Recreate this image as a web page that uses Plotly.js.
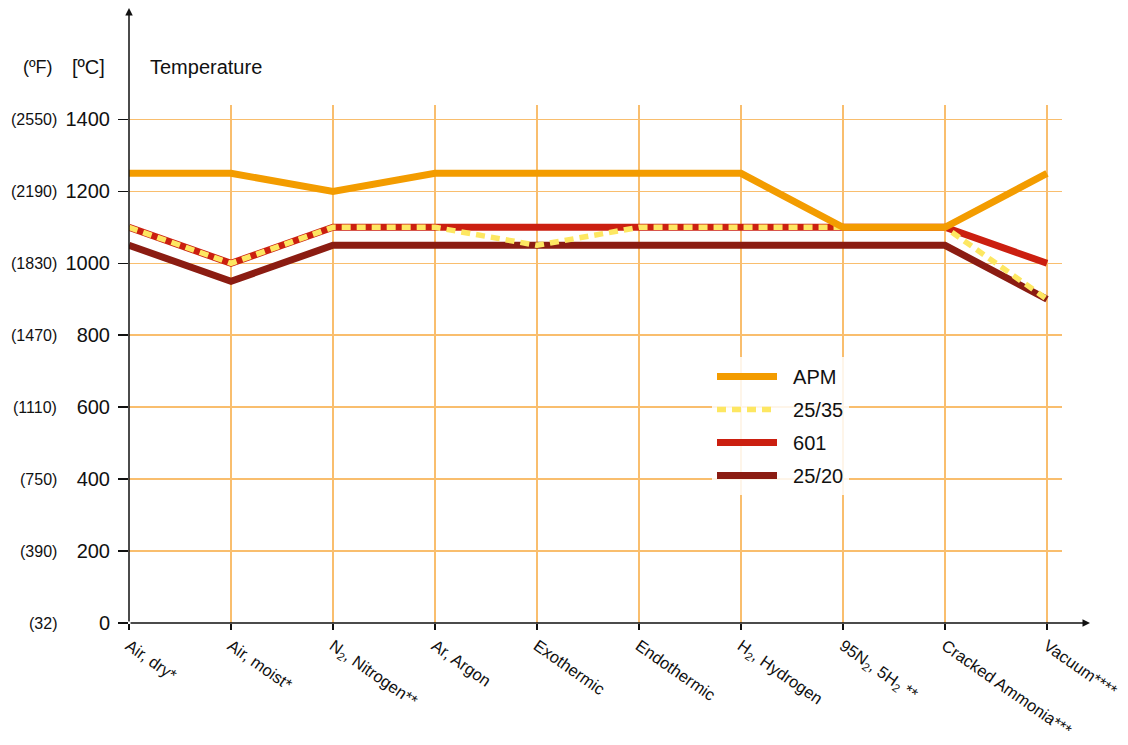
<!DOCTYPE html>
<html><head><meta charset="utf-8">
<script src="https://cdn.plot.ly/plotly-3.0.1.min.js"></script>
<style>html,body{margin:0;padding:0;background:#fff}#chart{width:1128px;height:745px}</style>
</head><body><div id="chart"></div>
<script>
const categories = ["Air, dry*", "Air, moist*", "N<sub>2</sub>, Nitrogen**", "Ar, Argon", "Exothermic", "Endothermic", "H<sub>2</sub>, Hydrogen", "95N<sub>2</sub>, 5H<sub>2</sub> **", "Cracked Ammonia***", "Vacuum****"];
const apm   = [1250, 1250, 1200, 1250, 1250, 1250, 1250, 1100, 1100, 1250];
const s2535 = [1100, 1000, 1100, 1100, 1050, 1100, 1100, 1100, 1100, 900];
const s601  = [1100, 1000, 1100, 1100, 1100, 1100, 1100, 1100, 1100, 1000];
const s2520 = [1050, 950, 1050, 1050, 1050, 1050, 1050, 1050, 1050, 900];
const yTicksC = [0, 200, 400, 600, 800, 1000, 1200, 1400];
const yTicksF = ["(32)", "(390)", "(750)", "(1110)", "(1470)", "(1830)", "(2190)", "(2550)"];

const xIdx = categories.map((_, i) => i);
const font = "Liberation Sans, Arial, Helvetica, sans-serif";
const nb = "\u00a0\u00a0";

const traces = [
  {name: "25/20", y: s2520, color: "#8B1C12", width: 7, dash: "solid", rank: 4},
  {name: "601",   y: s601,  color: "#CB1F10", width: 7, dash: "solid", rank: 3},
  {name: "25/35", y: s2535, color: "#FDE762", width: 5.5, dash: "9px,6px", rank: 2},
  {name: "APM",   y: apm,   color: "#F39C00", width: 7, dash: "solid", rank: 1}
].map(t => ({
  type: "scatter", mode: "lines", x: xIdx, y: t.y, name: nb + t.name,
  legendgroup: t.name, legendrank: t.rank,
  line: {color: t.color, width: t.width, dash: t.dash}
}));

const L = 129, R = 1062, B = 623, T = 105;
const W = R - L, H = B - T;
const yMax = 1440;
const px = v => (v - L) / W;
const py = v => (B - v) / H;

const annotations = [
  {x: px(21), y: py(67), xref: "paper", yref: "paper", text: "(ºF)", showarrow: false, xanchor: "left", yanchor: "middle", font: {family: font, size: 18, color: "#111"}},
  {x: px(70), y: py(67), xref: "paper", yref: "paper", text: "[ºC]", showarrow: false, xanchor: "left", yanchor: "middle", font: {family: font, size: 20, color: "#111"}},
  {x: px(148), y: py(67), xref: "paper", yref: "paper", text: "Temperature", showarrow: false, xanchor: "left", yanchor: "middle", font: {family: font, size: 20, color: "#111"}},
  {x: px(129), y: py(8), ax: px(129), ay: py(623), xref: "paper", yref: "paper", axref: "paper", ayref: "paper", showarrow: true, arrowhead: 2, arrowsize: 1, arrowwidth: 1.5, arrowcolor: "#111", text: ""},
  {x: px(1090), y: py(623), ax: px(129), ay: py(623), xref: "paper", yref: "paper", axref: "paper", ayref: "paper", showarrow: true, arrowhead: 2, arrowsize: 1, arrowwidth: 1.5, arrowcolor: "#111", text: ""}
];
yTicksC.forEach((v, i) => annotations.push({
  x: px(59), y: v, xref: "paper", yref: "y", text: yTicksF[i], showarrow: false,
  xanchor: "right", yanchor: "middle", font: {family: font, size: 16, color: "#111"}
}));

const layout = {
  width: 1128, height: 745,
  margin: {l: L, r: 1128 - R, t: T, b: 745 - B, pad: 0},
  paper_bgcolor: "#fff", plot_bgcolor: "#fff",
  font: {family: font, color: "#111"},
  showlegend: true,
  legend: {x: px(712), y: py(357), xanchor: "left", yanchor: "top", bgcolor: "rgba(255,255,255,0.85)",
           font: {family: font, size: 20, color: "#111"}, itemwidth: 60, tracegroupgap: 4, traceorder: "grouped"},
  xaxis: {range: [0, 9 + 15 / 102], tickmode: "array", tickvals: xIdx, ticktext: categories,
          tickangle: 35, ticks: "outside", ticklen: 6, tickcolor: "#111", tickwidth: 1.5,
          showgrid: true, gridcolor: "#F9BE6E", gridwidth: 1.5, zeroline: false, showline: false,
          tickfont: {family: font, size: 16.5, color: "#111"}, fixedrange: true},
  yaxis: {range: [0, yMax], tickmode: "array", tickvals: yTicksC, ticktext: yTicksC.map(String),
          ticks: "outside", ticklen: 10, tickcolor: "#111", tickwidth: 1.5,
          showgrid: true, gridcolor: "#F9BE6E", gridwidth: 1.5, zeroline: false, showline: false,
          tickfont: {family: font, size: 20, color: "#111"}, ticklabelstandoff: 4, fixedrange: true},
  annotations: annotations
};

Plotly.newPlot("chart", traces, layout, {displayModeBar: false, staticPlot: true});
</script></body></html>
